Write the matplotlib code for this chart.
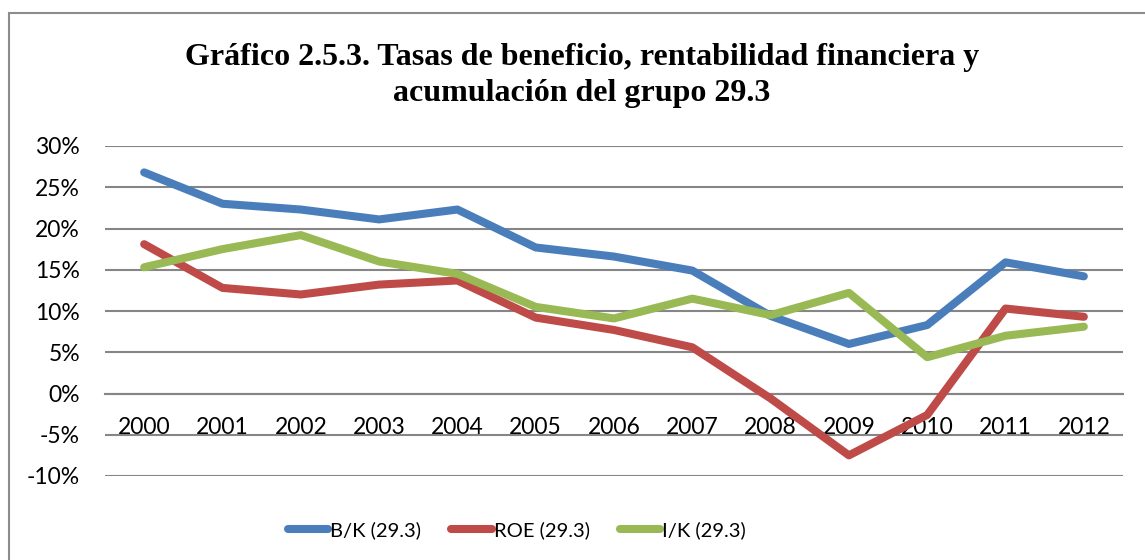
import matplotlib
matplotlib.use('Agg')
import matplotlib.pyplot as plt
from matplotlib.patches import Rectangle

# datos (en %)
years = ['2000', '2001', '2002', '2003', '2004', '2005', '2006',
         '2007', '2008', '2009', '2010', '2011', '2012']
bk = [26.8, 23.0, 22.3, 21.1, 22.3, 17.7, 16.6, 14.9, 9.4, 6.0, 8.3, 15.9, 14.2]
roe = [18.1, 12.8, 12.0, 13.2, 13.7, 9.2, 7.7, 5.6, -0.6, -7.5, -2.6, 10.3, 9.3]
ik = [15.3, 17.5, 19.2, 16.0, 14.5, 10.5, 9.1, 11.5, 9.5, 12.2, 4.4, 7.0, 8.1]
yticks = [-10, -5, 0, 5, 10, 15, 20, 25, 30]

series = [('B/K (29.3)', bk, '#4A7EBB'),
          ('ROE (29.3)', roe, '#BE4B48'),
          ('I/K (29.3)', ik, '#98B954')]

plt.rcParams['font.family'] = ['Lato', 'DejaVu Sans']

fig = plt.figure(figsize=(11.45, 5.6), dpi=100)
# marco exterior del gráfico
fig.patches.append(Rectangle((8.5 / 1145, -0.1), 1.2, 0.1 + (560 - 13) / 560,
                             transform=fig.transFigure, fill=False,
                             edgecolor='#8C8C8C', linewidth=1.5))

ax = fig.add_axes([105 / 1145, 84 / 560, 1018 / 1145, 330 / 560])
x = list(range(len(years)))
for label, vals, color in series:
    ax.plot(x, vals, color=color, linewidth=5.8, label=label,
            solid_capstyle='round', solid_joinstyle='round', zorder=3)

ax.set_xlim(-0.5, len(years) - 0.5)
ax.set_ylim(-10, 30)
ax.set_yticks(yticks)
ax.set_yticklabels([f'{v}%' for v in yticks])
ax.grid(axis='y', color='#868686', linewidth=1.5)
ax.set_axisbelow(True)
for s in ['top', 'right', 'left']:
    ax.spines[s].set_visible(False)
ax.spines['bottom'].set_position(('data', 0))
ax.spines['bottom'].set_color('#868686')
ax.spines['bottom'].set_linewidth(1.5)
ax.set_xticks(x)
ax.set_xticklabels(years)
ax.tick_params(axis='both', length=0, labelsize=16.5)
ax.tick_params(axis='y', pad=18)
ax.tick_params(axis='x', pad=17)

fig.suptitle('Gráfico 2.5.3. Tasas de beneficio, rentabilidad financiera y\n'
             'acumulación del grupo 29.3',
             x=0.508, y=1 - 43 / 560, fontsize=23, fontweight='bold',
             family='Liberation Serif', linespacing=1.3, va='top')

fig.legend(loc='center', bbox_to_anchor=(517 / 1145, 30 / 560), ncol=3,
           frameon=False, fontsize=14.5, handlelength=2.0, handletextpad=0.1,
           columnspacing=1.5)

fig.savefig('out.png', dpi=100)
